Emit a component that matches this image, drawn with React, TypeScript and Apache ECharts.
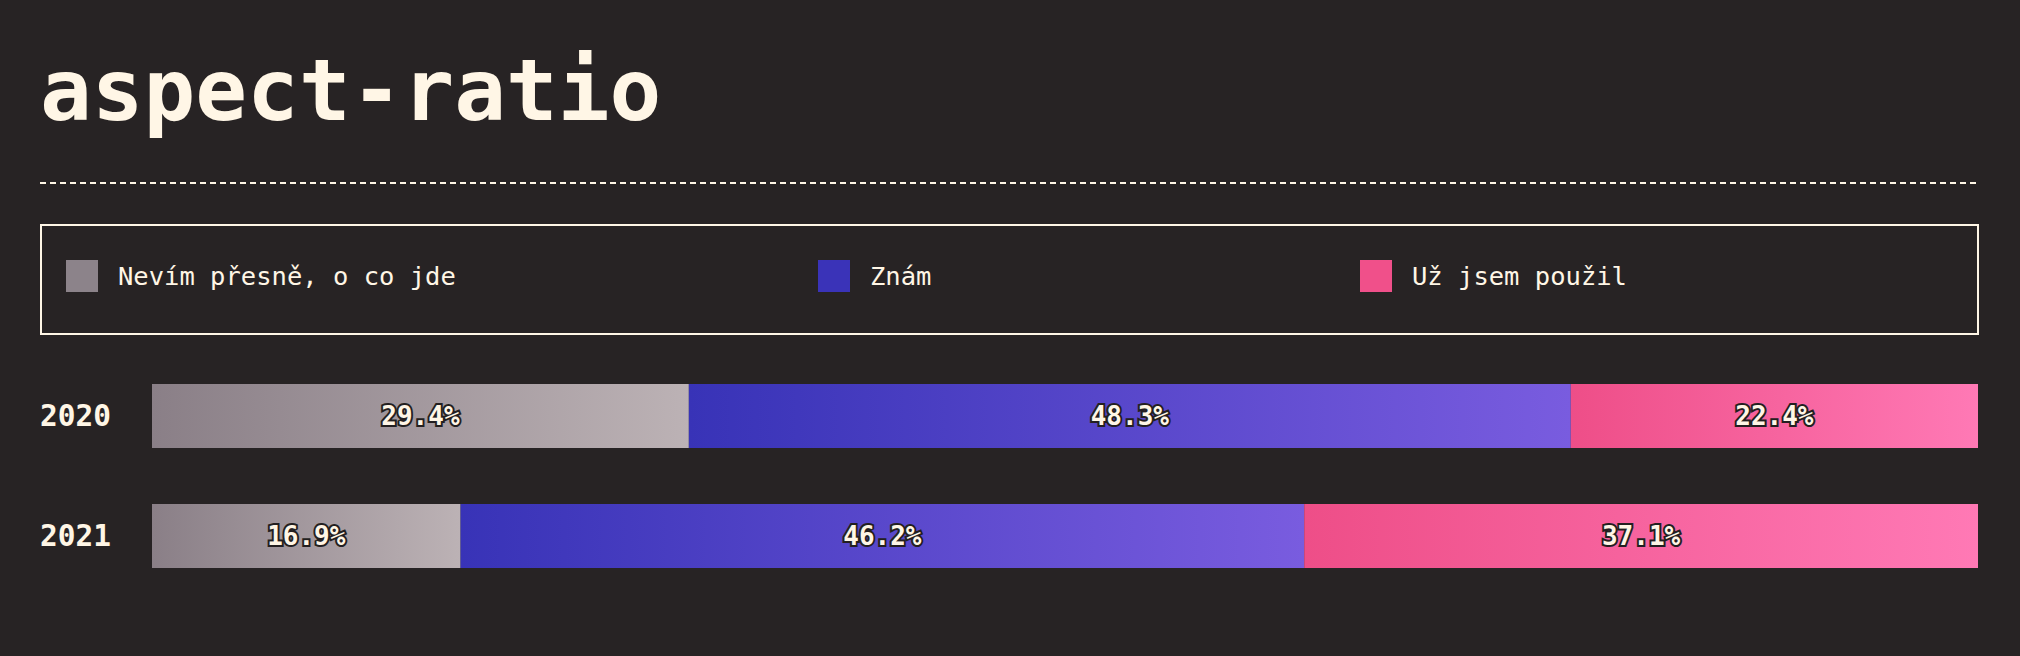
import React, { useEffect, useRef } from "react";
import * as echarts from "echarts";

const TITLE = "aspect-ratio";
const years = ["2020", "2021"];
const seriesNames = ["Nevím přesně, o co jde", "Znám", "Už jsem použil"];
const unknownValues = [29.4, 16.9];
const knowValues = [48.3, 46.2];
const usedValues = [22.4, 37.1];

const BG = "#272324";
const CREAM = "#FFF6E6";
const FONT = "'DejaVu Sans Mono', 'Liberation Mono', monospace";

const legendColors = ["#8C838A", "#3A33B8", "#F0508A"];
const gradStops = [
  ["#8A7F87", "#BCB2B5"],
  ["#3833B7", "#795CDF"],
  ["#EE4E88", "#FF79B5"],
];
const legendLefts = [66, 818, 1360];

export default function App() {
  const ref = useRef<HTMLDivElement>(null);
  useEffect(() => {
    if (!ref.current) return;
    const chart = echarts.init(ref.current, null, { renderer: "svg" });
    const values = [unknownValues, knowValues, usedValues];
    const series = seriesNames.map((name, i) => ({
      name,
      type: "bar",
      stack: "total",
      barWidth: 64,
      data: values[i],
      itemStyle: {
        color: new echarts.graphic.LinearGradient(0, 0, 1, 0, [
          { offset: 0, color: gradStops[i][0] },
          { offset: 1, color: gradStops[i][1] },
        ]),
      },
      label: {
        show: true,
        position: "inside",
        formatter: (p: any) => `${Number(p.value).toFixed(1)}%`,
        color: CREAM,
        fontFamily: FONT,
        fontWeight: "bold",
        fontSize: 26,
        textBorderColor: "#231F20",
        textBorderWidth: 4,
      },
    }));
    const legends = seriesNames.map((name, i) => ({
      show: true,
      left: legendLefts[i],
      top: 260,
      padding: 0,
      orient: "horizontal",
      icon: "rect",
      itemWidth: 32,
      itemHeight: 32,
      selectedMode: false,
      data: [{ name, itemStyle: { color: legendColors[i] } }],
      textStyle: {
        color: CREAM,
        fontFamily: FONT,
        fontSize: 25.5,
        padding: [11, 0, 0, 15],
      },
    }));
    chart.setOption({
      animation: false,
      backgroundColor: BG,
      legend: legends,
      grid: { left: 152, right: 42, top: 356, height: 240 },
      xAxis: { type: "value", min: 0, max: 100, show: false },
      yAxis: {
        type: "category",
        data: years,
        inverse: true,
        axisLine: { show: false },
        axisTick: { show: false },
        splitLine: { show: false },
        axisLabel: {
          align: "left",
          margin: 112,
          color: CREAM,
          fontFamily: FONT,
          fontWeight: "bold",
          fontSize: 29.5,
          padding: [3, 0, 0, 0],
        },
      },
      graphic: [
        {
          type: "text",
          left: 40,
          top: 47,
          style: {
            text: TITLE,
            fill: CREAM,
            font: `bold 86px ${FONT}`,
          },
        },
        {
          type: "line",
          shape: { x1: 40, y1: 183, x2: 1980, y2: 183 },
          style: { stroke: CREAM, lineWidth: 2, lineDash: [6, 4] },
        },
        {
          type: "rect",
          shape: { x: 41, y: 225, width: 1937, height: 109 },
          style: { fill: "none", stroke: CREAM, lineWidth: 2 },
        },
      ],
      series,
    });
    return () => chart.dispose();
  }, []);
  return (
    <div
      ref={ref}
      style={{ position: "absolute", left: 0, top: 0, width: 2020, height: 656 }}
    />
  );
}
